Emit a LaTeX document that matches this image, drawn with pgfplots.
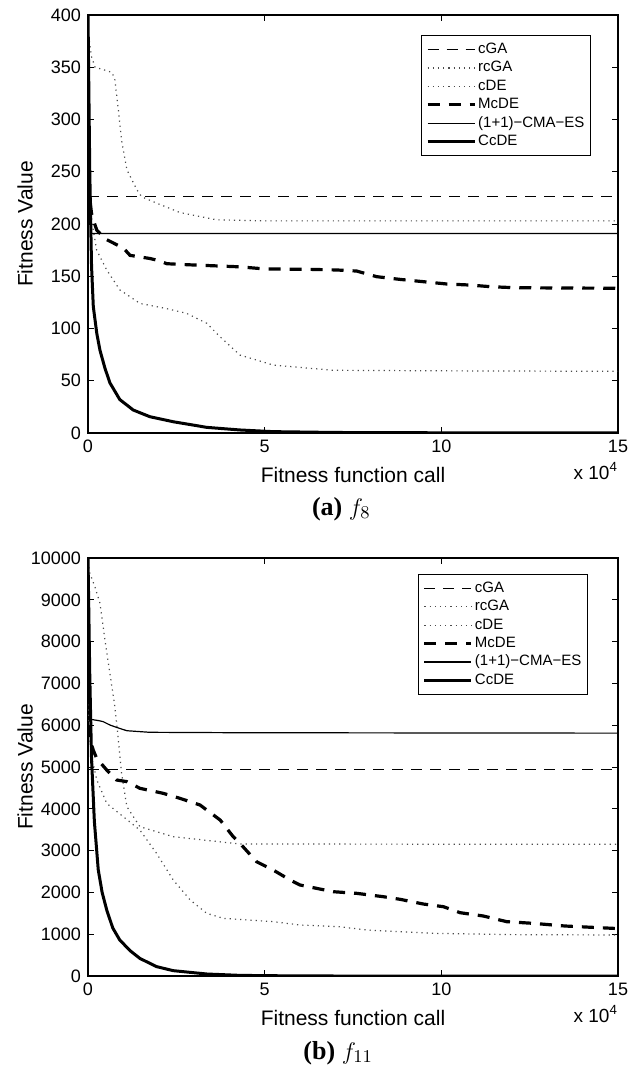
\documentclass[border=0pt]{standalone}
\usepackage{fontspec}
\setmainfont{Liberation Sans}
\newfontfamily\capserif{Liberation Serif}
\usepackage{pgfplots}
\pgfplotsset{compat=1.18}
\usetikzlibrary{calc}

% curves for f8
\pgfplotstableread{
x y
0 226
15 226
}\fAcga
\pgfplotstableread{
x y
0 385
0.05 372
0.1 360
0.2 350
0.5 347
0.68 345
0.76 338
0.86 309
0.95 280
1.1 252
1.38 233
1.52 226
1.94 220
2.6 211
3.64 204
5 203
15 203
}\fArcga
\pgfplotstableread{
x y
0 260
0.05 230
0.12 200
0.245 175
0.53 156
0.9 137
1.47 124
2.23 119
2.79 114.5
3.36 105
3.74 92
4.3 74.6
5.24 65
6.94 60
10 59.5
15 59
}\fAcde
\pgfplotstableread{
x y
0 240
0.1 210
0.15 204
0.25 194
0.53 185
1.0 177
1.19 170
1.75 167
2.0 165
2.23 162
2.83 161
4.3 159
5 157
6.28 156.6
7.04 156
7.6 155
8.17 149.6
8.83 147
9.49 144.8
10.15 142.6
10.8 141.6
11.4 140
12.1 139
15 138.5
}\fAmcde
\pgfplotstableread{
x y
0 260
0.08 191
15 191
}\fAcma
\pgfplotstableread{
x y
0 400
0.05 250
0.1 160
0.15 121
0.25 95
0.34 79
0.48 62
0.62 48
0.9 32
1.28 22
1.75 15.6
2.41 10.8
3.36 5.4
4.3 2.9
5.24 1.3
7 0.5
10 0.2
15 0.1
}\fAccde

% curves for f11
\pgfplotstableread{
x y
0 4944
15 4944
}\fBcga
\pgfplotstableread{
x y
0 9900
0.05 9641
0.2 9300
0.34 8915
0.48 8038
0.62 7241
0.76 6443
0.86 5646
0.95 4848
1.1 4051
1.47 3572
2.41 3333
4.3 3158
15 3150
}\fBrcga
\pgfplotstableread{
x y
0 6500
0.05 5700
0.1 5250
0.25 4690
0.53 4130
1.0 3810
1.47 3490
1.94 2935
2.41 2300
2.89 1820
3.36 1500
3.83 1380
5.24 1300
6.0 1220
7.1 1180
7.9 1100
9.77 1021
12 990
15 981
}\fBcde
\pgfplotstableread{
x y
0 6000
0.06 5646
0.15 5400
0.245 5208
0.53 4928
0.81 4689
1.1 4650
1.47 4490
2.13 4370
2.6 4251
3.17 4091
3.74 3732
4.11 3333
4.3 3175
4.77 2735
5.24 2536
5.72 2297
6.0 2177
6.94 2017
7.6 1978
8.36 1897
8.83 1835
9.49 1722
10.06 1658
10.53 1515
11.19 1435
11.85 1300
12.6 1260
13.5 1196
14.87 1140
15 1135
}\fBmcde
\pgfplotstableread{
x y
0 6150
0.3 6110
0.43 6085
0.62 6005
0.8 5950
1.1 5868
1.75 5830
4.3 5820
15 5810
}\fBcma
\pgfplotstableread{
x y
0 10000
0.05 7200
0.1 5200
0.18 3700
0.29 2540
0.4 2000
0.53 1580
0.7 1150
0.9 860
1.2 600
1.47 420
1.94 225
2.41 128
3.36 48
4.3 15
5.5 5
7 0
15 0
}\fBccde

\pgfplotsset{
  fitax/.style={
    scale only axis, width=265pt, height=209pt,
    xmin=0, xmax=15, xtick={0,5,10,15},
    tick align=inside, tick pos=both,
    axis line style={line width=0.6pt},
    major tick length=2.8pt,
    tick style={black, line width=0.4pt},
    ticklabel style={font=\fontsize{9}{10}\selectfont},
    /pgf/number format/assume math mode=true,
    /pgf/number format/1000 sep={},
    scaled ticks=false,
    label style={font=\fontsize{10.5}{12}\selectfont},
    ylabel={Fitness Value},
    ylabel style={at={(rel axis cs:0,0.5)}, anchor=center, yshift=31.5pt},
    xlabel={Fitness function call},
    xlabel style={at={(rel axis cs:0.5,0)}, anchor=base, yshift=-24.5pt},
    legend cell align=left,
    legend style={font=\fontsize{7.5}{9}\selectfont, draw=black, line width=0.5pt,
      inner xsep=2pt, inner ysep=2.4pt,
      nodes={inner sep=1pt, text height=5.6pt, text depth=1.6pt}},
    legend image code/.code={\draw[##1] (0pt,0pt) -- (23.5pt,0pt);},
  },
  cga/.style={black, line width=0.6pt, dash pattern=on 5.5pt off 4pt},
  dotty/.style={black!70, line width=0.6pt, dash pattern=on 0.6pt off 2pt},
  mcde/.style={black, line width=1.6pt, dash pattern=on 6pt off 4.5pt},
  cma/.style={black, line width=0.6pt},
  ccde/.style={black, line width=1.5pt},
}

\begin{document}
\begin{tikzpicture}
\useasboundingbox (-44pt,-316.5pt) rectangle (275.5pt,216.5pt);

\begin{axis}[fitax, name=top, at={(0,0)}, anchor=south west,
  ymin=0, ymax=400, ytick={0,50,...,400},
  legend style={at={(0.949,0.952)}, anchor=north east}]
\addplot[cga] table {\fAcga};
\addlegendentry{cGA}
\addplot[dotty] table {\fArcga};
\addlegendentry{rcGA}
\addplot[dotty] table {\fAcde};
\addlegendentry{cDE}
\addplot[mcde] table {\fAmcde};
\addlegendentry{McDE}
\addplot[cma] table {\fAcma};
\addlegendentry{(1+1)−CMA−ES}
\addplot[ccde] table {\fAccde};
\addlegendentry{CcDE}
\end{axis}
\node[anchor=base east, font=\fontsize{9.5}{10}\selectfont, xshift=3.5pt, yshift=-23pt]
  at (top.south east) {x 10\textsuperscript{4}};
\node[anchor=base, font=\fontsize{13}{14}\selectfont\capserif, yshift=-41pt]
  at ($(top.south west)!0.478!(top.south east)$) {\textbf{(a)}\ $f_8$};

\begin{axis}[fitax, name=bot, at={(0,-271.5pt)}, anchor=south west,
  ymin=0, ymax=10000, ytick={0,1000,...,10000},
  legend style={at={(0.943,0.962)}, anchor=north east}]
\addplot[cga] table {\fBcga};
\addlegendentry{cGA}
\addplot[dotty] table {\fBrcga};
\addlegendentry{rcGA}
\addplot[dotty] table {\fBcde};
\addlegendentry{cDE}
\addplot[mcde] table {\fBmcde};
\addlegendentry{McDE}
\addplot[cma] table {\fBcma};
\addlegendentry{(1+1)−CMA−ES}
\addplot[ccde] table {\fBccde};
\addlegendentry{CcDE}
\end{axis}
\node[anchor=base east, font=\fontsize{9.5}{10}\selectfont, xshift=3.5pt, yshift=-23pt]
  at (bot.south east) {x 10\textsuperscript{4}};
\node[anchor=base, font=\fontsize{13}{14}\selectfont\capserif, yshift=-41.5pt]
  at ($(bot.south west)!0.472!(bot.south east)$) {\textbf{(b)}\ $f_{11}$};
\end{tikzpicture}
\end{document}
